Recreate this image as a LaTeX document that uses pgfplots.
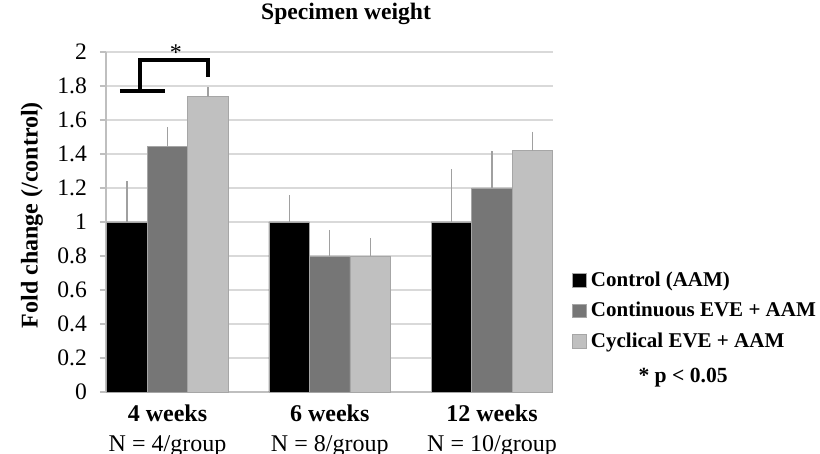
\documentclass[border=0pt]{standalone}
\usepackage{pgfplots}
\pgfplotsset{compat=1.18}
\usepackage{fontspec}
\setmainfont{Liberation Serif}
\definecolor{darkbar}{HTML}{767676}
\definecolor{lightbar}{HTML}{C0C0C0}
\definecolor{gridc}{HTML}{D9D9D9}
\definecolor{axc}{HTML}{BFBFBF}
\definecolor{errc}{HTML}{A0A0A0}
\begin{document}
\begin{tikzpicture}
\useasboundingbox (0,0) rectangle (410pt,227pt);
\begin{axis}[
  at={(53pt,31pt)}, anchor=south west,
  scale only axis,
  width=223.5pt, height=170pt,
  ybar=0pt, bar width=0.2496,
  xmin=-0.379, xmax=2.376,
  ymin=0, ymax=2,
  ytick={0,0.2,...,2.01},
  xtick={0,1,2},
  xticklabels={{\textbf{4 weeks}\\N = 4/group},{\textbf{6 weeks}\\N = 8/group},{\textbf{12 weeks}\\N = 10/group}},
  xticklabel style={align=center, font=\fontsize{12}{15}\selectfont},
  yticklabel style={font=\fontsize{11.8}{13}\selectfont, xshift=-3pt},
  /pgf/number format/assume math mode=true,
  ymajorgrids, grid style={gridc, line width=0.6pt},
  axis x line*=bottom, axis y line*=left,
  axis line style={axc, line width=0.6pt, -},
  tick align=outside, major tick length=3pt,
  xtick style={draw=none}, ytick style={axc, line width=0.6pt},
  clip=false,
  legend style={at={(1.042,0.238)}, anchor=west, draw=none, fill=none,
    font=\bfseries\fontsize{10.5}{12}\selectfont, row sep=2.5pt,
    legend cell align=left, inner sep=0pt},
  legend image code/.code={\draw[#1, draw=gray!70, line width=0.4pt] (0pt,-3.4pt) rectangle (7pt,3.4pt);},
  error bars/y dir=plus, error bars/y explicit,
  error bars/error mark=none,
  error bars/error bar style={errc, line width=0.6pt},
  ylabel={\textbf{Fold change (/control)}},
  ylabel style={at={(rel axis cs:-0.1655,0.52)}, anchor=center, font=\fontsize{12}{13}\selectfont},
]
\addplot[fill=black, draw=gray!70, line width=0.4pt] coordinates {(0,1.00) +- (0,0.24) (1,1.00) +- (0,0.16) (2,1.00) +- (0,0.31)};
\addplot[fill=darkbar, draw=gray!70, line width=0.4pt] coordinates {(0,1.445) +- (0,0.115) (1,0.80) +- (0,0.153) (2,1.20) +- (0,0.22)};
\addplot[fill=lightbar, draw=gray!70, line width=0.4pt] coordinates {(0,1.737) +- (0,0.06) (1,0.80) +- (0,0.106) (2,1.42) +- (0,0.111)};
\legend{Control (AAM),Continuous EVE + AAM,Cyclical EVE + AAM}
\draw[black, line width=2pt] (axis cs:-0.293,1.77) -- (axis cs:-0.015,1.77);
\draw[black, line width=2pt, line join=miter] (axis cs:-0.169,1.77) -- (axis cs:-0.169,1.95) -- (axis cs:0.25,1.95) -- (axis cs:0.25,1.85);
\node[font=\fontsize{12}{13}\selectfont] at (axis cs:0.052,1.995) {*};
\node[font=\bfseries\fontsize{11.8}{13}\selectfont] at (rel axis cs:0.537,1.112) {Specimen weight};
\node[font=\bfseries\fontsize{10.8}{12}\selectfont] at (rel axis cs:1.291,0.041) {* p < 0.05};
\end{axis}
\end{tikzpicture}
\end{document}
